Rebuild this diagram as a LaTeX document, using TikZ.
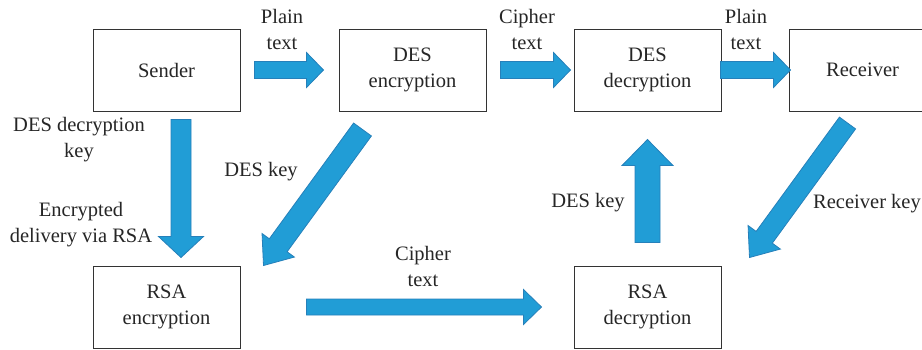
\documentclass[tikz,border=0pt]{standalone}
\usepackage{fontspec}
\setmainfont{Liberation Serif}
\usetikzlibrary{positioning,calc}
\definecolor{arrowblue}{RGB}{33,157,214}
\definecolor{arrowedge}{RGB}{38,128,186}
% block arrow: tail, tip, shaft half width, head half width, head length
\newcommand{\fatarrow}[5]{%
  \coordinate (fa-t) at #1; \coordinate (fa-p) at #2;
  \path ($(fa-p)!#5!(fa-t)$) coordinate (fa-h);
  \filldraw[fat] ($(fa-t)!#3!90:(fa-p)$) -- ($(fa-h)!#3!90:(fa-p)$) -- ($(fa-h)!#4!90:(fa-p)$)
    -- (fa-p) -- ($(fa-h)!#4!-90:(fa-p)$) -- ($(fa-h)!#3!-90:(fa-p)$) -- ($(fa-t)!#3!-90:(fa-p)$) -- cycle;}

\begin{document}
\begin{tikzpicture}[x=0.5pt,y=-0.5pt,
  every node/.style={font=\fontsize{10.25pt}{13pt}\selectfont,text=black!85},
  box/.style={draw=black!80,line width=0.5pt,minimum width=73.5pt,minimum height=41pt,align=center},
  lbl/.style={align=center,inner sep=0pt},
  fat/.style={fill=arrowblue,draw=arrowedge,line width=0.4pt}]
\useasboundingbox (0,0) rectangle (922,349);
\clip (0,0) rectangle (922,349);
\node[box] (sender) at (166.5,70) {Sender};
\node[box,right=49pt of sender] (desenc) {DES\\encryption};
\node[box,right=43.5pt of desenc] (desdec) {DES\\decryption};
\node[box,right=33.5pt of desdec] (receiver) {Receiver};
\node[box,below=77pt of sender] (rsaenc) {RSA\\encryption};
\node[box,below=77pt of desdec] (rsadec) {RSA\\decryption};
% arrows
\fatarrow{([xshift=7pt]sender.east)}{([xshift=-7.5pt]desenc.west)}{4.25pt}{8.75pt}{8.5pt}
\fatarrow{([xshift=7pt]desenc.east)}{([xshift=-1.5pt]desdec.west)}{4.25pt}{8.75pt}{8.5pt}
\fatarrow{([xshift=-0.5pt]desdec.east)}{([xshift=1pt]receiver.west)}{4.25pt}{8.75pt}{8.5pt}
\fatarrow{([xshift=7.25pt,yshift=-4pt]sender.south)}{([xshift=7.25pt,yshift=4pt]rsaenc.north)}{5pt}{11.25pt}{10.5pt}
\fatarrow{([xshift=-25pt,yshift=-9pt]desenc.south)}{([xshift=11.5pt]rsaenc.north east)}{5.5pt}{10pt}{12.5pt}
\fatarrow{([yshift=11.5pt]rsadec.north)}{([yshift=-14pt]desdec.south)}{6.25pt}{12.75pt}{13pt}
\fatarrow{([xshift=-7.5pt,yshift=-5.75pt]receiver.south)}{([xshift=14pt,yshift=4pt]rsadec.north east)}{5pt}{10pt}{12.5pt}
\fatarrow{([xshift=33pt]rsaenc.east)}{([xshift=-16pt]rsadec.west)}{4pt}{8.75pt}{9pt}
% labels
\node[lbl] (plain1) at (282,29) {Plain\\text};
\node[lbl] (cipher1) at (527,29) {Cipher\\text};
\node[lbl] (plain2) at (746,29) {Plain\\text};
\node[lbl] (deskey) at (79,139.5) {DES decryption\\key};
\node[lbl] (viarsa) at (81,225) {Encrypted\\delivery via RSA};
\node[lbl] (deskey1) at (261,172) {DES key};
\node[lbl] (deskey2) at (588,203) {DES key};
\node[lbl] (reckey) at (867,204) {Receiver key};
\node[lbl] (cipher2) at (423,266) {Cipher\\text};
\end{tikzpicture}
\end{document}
